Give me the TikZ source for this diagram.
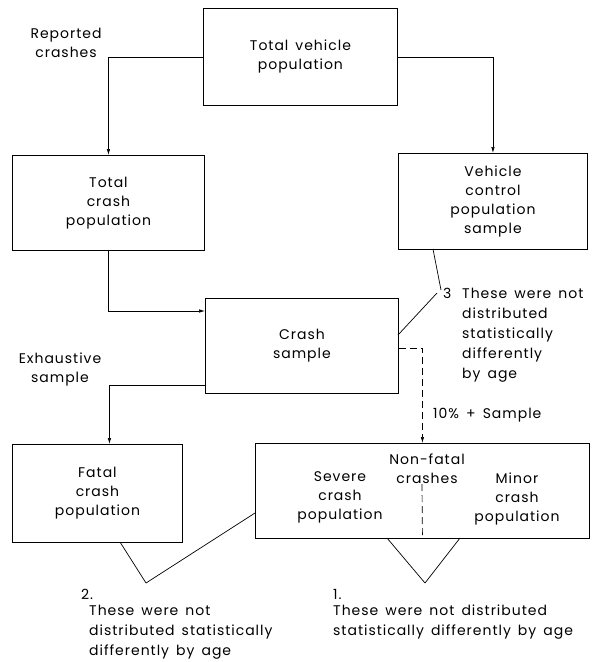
\documentclass[tikz,border=0pt]{standalone}
\usepackage{fontspec}
\setmainfont[LetterSpace=7,WordSpace=1.5]{Poppins}
\usetikzlibrary{arrows.meta}
\begin{document}
\begin{tikzpicture}[x=1pt,y=-1pt,
  every node/.style={font=\fontsize{14}{19}\selectfont},
  box/.style={draw, line width=0.9pt, anchor=north west, align=center, inner sep=0pt},
  conn/.style={line width=0.7pt, -{Latex[length=6pt,width=3.5pt]}},
  dsh/.style={dash pattern=on 7pt off 4pt},
  note/.style={line width=0.7pt},
  lbl/.style={align=left, anchor=north west, inner sep=0pt, font=\fontsize{14}{20}\selectfont},
  clbl/.style={align=center, inner sep=0pt}]
\useasboundingbox (0,0) rectangle (592,662);
% boxes
\node[box, minimum width=194pt, minimum height=97pt] (tv) at (203,8) {Total vehicle\\population};
\node[box, minimum width=192pt, minimum height=95pt] (tc) at (12,155) {Total\\crash\\population};
\node[box, minimum width=189pt, minimum height=96pt] (vc) at (398,153) {Vehicle\\control\\population\\sample};
\node[box, minimum width=193pt, minimum height=95pt] (cs) at (205,298) {Crash\\sample};
\node[box, minimum width=170pt, minimum height=98pt] (fc) at (12,444) {Fatal\\crash\\population};
\node[box, minimum width=334pt, minimum height=95pt] (nf) at (255,443) {};
% non-fatal texts
\node[clbl] (nft) at (427,469) {Non-fatal\\crashes};
\node[clbl] (sev) at (340,497) {Severe\\crash\\population};
\node[clbl] (min) at (517,499) {Minor\\crash\\population};
% side labels
\node[clbl] (rep) at (66,43) {Reported\\crashes};
\node[clbl] (exh) at (60,369) {Exhaustive\\sample};
\node[lbl] (pct) at (433,408) {10\% + Sample};
% connectors
\draw[conn] (tv.west) -| (tc.north);
\draw[conn] (tv.east) -| (vc.north);
\coordinate (csin) at ([yshift=-13pt]cs.north west);
\draw[conn] (tc.south) |- (csin);
\coordinate (csout) at ([yshift=9pt]cs.south west);
\coordinate (fcin) at ([xshift=12pt]fc.north);
\draw[conn] (csout) -| (fcin);
\coordinate (csr) at ([yshift=-2pt]cs.east);
\draw[conn, dsh] (csr) -| (nf.north);
\coordinate (divtop) at (422,484);
\draw[note, dsh] (divtop) -- (nf.south);
% note 3
\node[lbl] (n3) at (443,288) {3};
\node[lbl] (t3) at (462,288) {These were not\\distributed\\statistically\\differently\\by age};
\coordinate (a3) at (441,290);
\coordinate (vcb) at (433,249);
\coordinate (csr2) at (398,335);
\draw[note] (vcb) -- (a3);
\draw[note] (csr2) -- (437,293);
% note 2
\coordinate (a2) at (146,583);
\draw[note] (120,542) -- (a2);
\draw[note] (255,513) -- (a2);
\node[lbl] (n2) at (81,589) {2.};
\node[lbl] (t2) at (89,605) {These were not\\distributed statistically\\differently by age};
% note 1
\coordinate (a1) at (425,583);
\draw[note] (387,538) -- (a1);
\draw[note] (460,538) -- (a1);
\node[lbl] (n1) at (333,589) {1.};
\node[lbl] (t1) at (333,605) {These were not distributed\\statistically differently by age};
\end{tikzpicture}
\end{document}
